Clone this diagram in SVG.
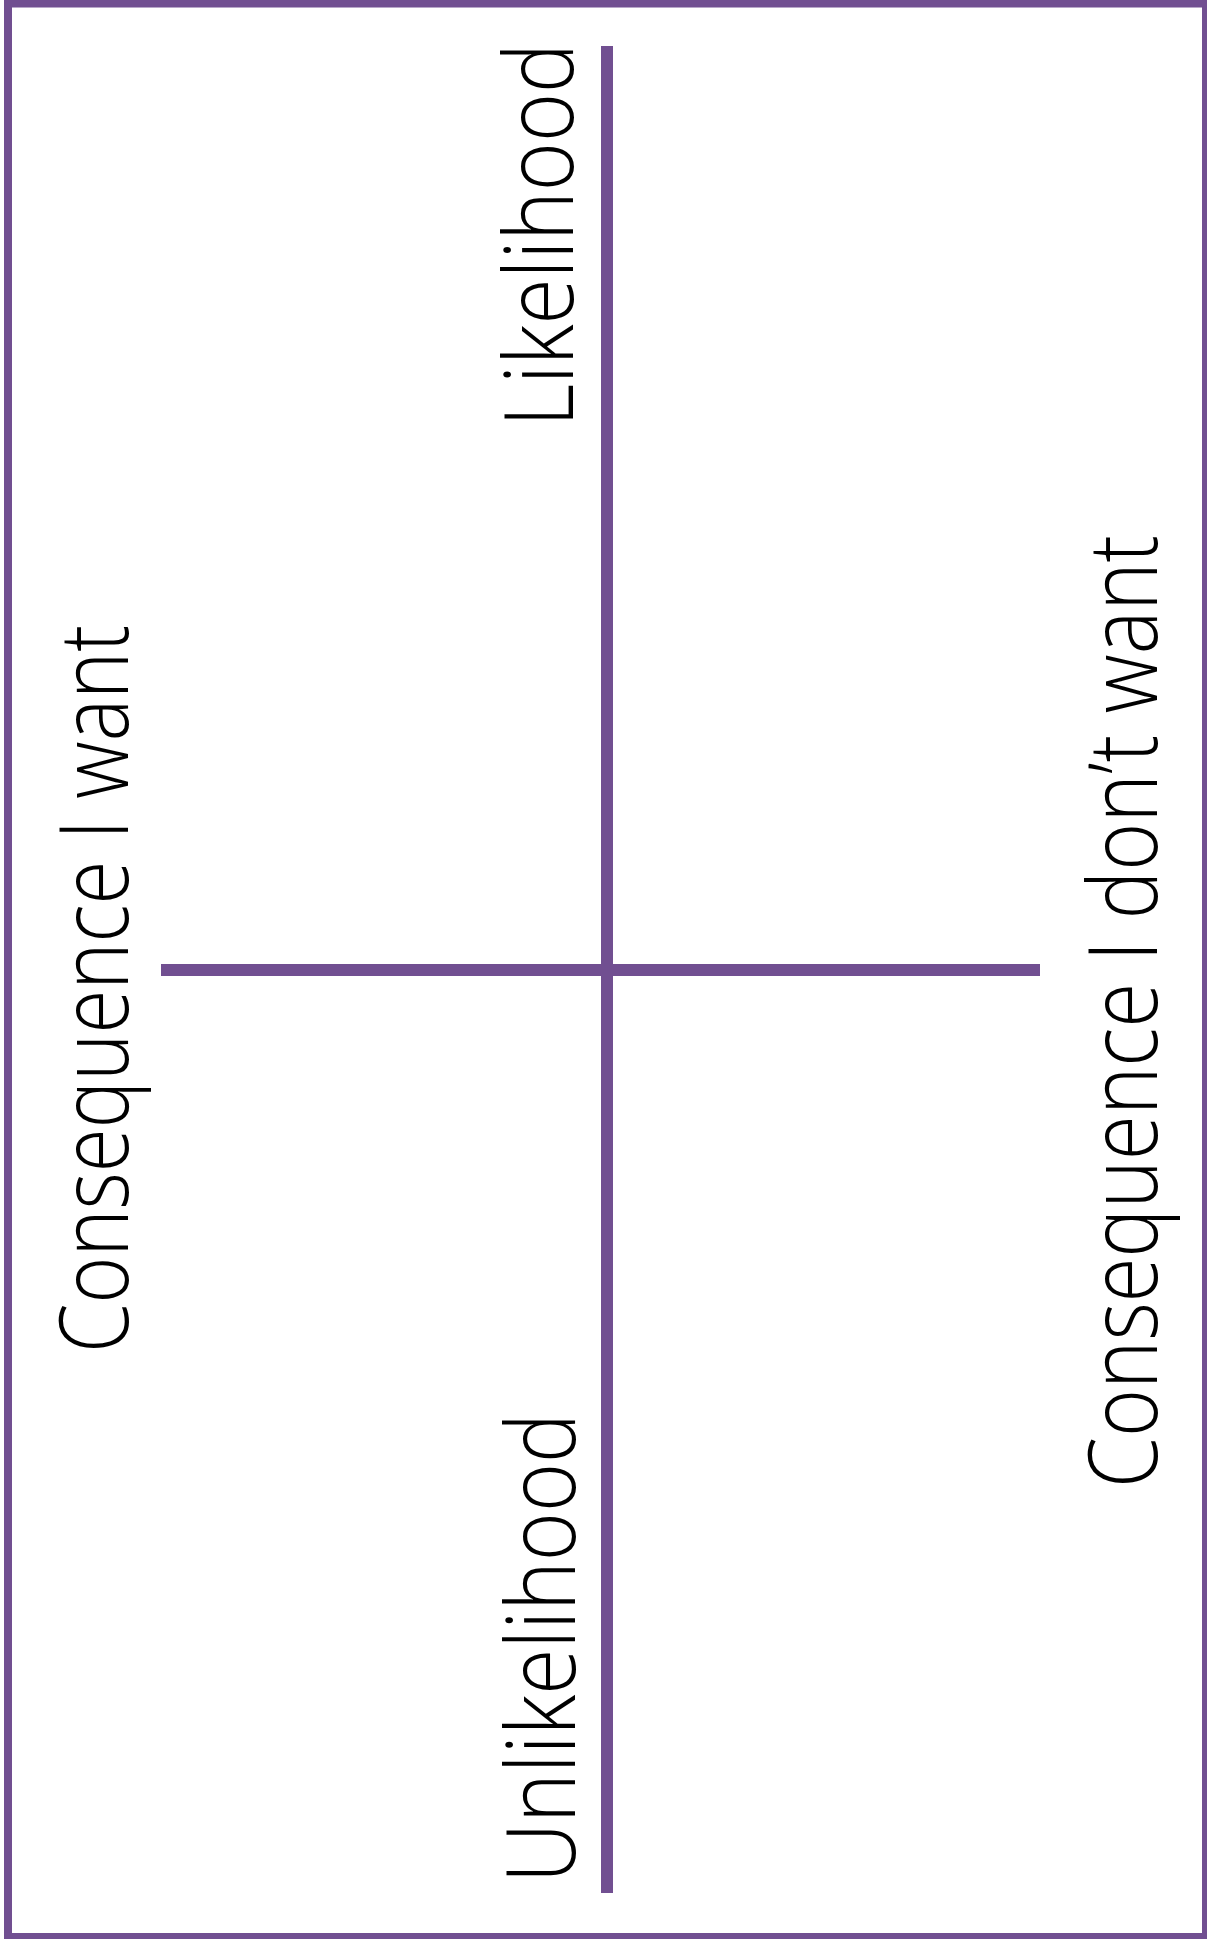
<svg xmlns="http://www.w3.org/2000/svg" width="1207" height="1939" viewBox="0 0 1207 1939">
  <style>
    .axis { stroke: #714f91; stroke-width: 12; fill: none; }
    .frame { stroke: #714f91; stroke-width: 8; fill: #ffffff; }
    .lbl { font-family: "Open Sans", "Lato", "Liberation Sans", sans-serif; font-weight: 300; font-size: 96px; fill: #000000; }
  </style>
  <rect class="frame" x="8" y="3.5" width="1198" height="1933.5"/>
  <g id="connectors">
    <line class="axis" x1="607" y1="46" x2="607" y2="1893"/>
    <line class="axis" x1="161" y1="970" x2="1040" y2="970"/>
  </g>
  <g id="likelihood">
    <text class="lbl" transform="translate(573,427) rotate(-90)" x="0" y="0" textLength="384" lengthAdjust="spacingAndGlyphs">Likelihood</text>
  </g>
  <g id="unlikelihood">
    <text class="lbl" transform="translate(575,1883) rotate(-90)" x="0" y="0" textLength="470" lengthAdjust="spacingAndGlyphs">Unlikelihood</text>
  </g>
  <g id="consequence-want">
    <text class="lbl" transform="translate(128,1353) rotate(-90)" x="0" y="0" textLength="728" lengthAdjust="spacingAndGlyphs">Consequence I want</text>
  </g>
  <g id="consequence-dont-want">
    <text class="lbl" transform="translate(1157,1488) rotate(-90)" x="0" y="0" textLength="953" lengthAdjust="spacingAndGlyphs">Consequence I don’t want</text>
  </g>
</svg>
